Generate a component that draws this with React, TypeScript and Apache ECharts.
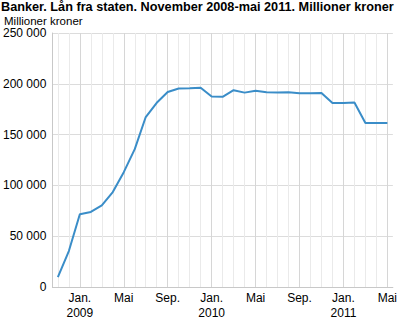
import React, { useEffect, useRef } from "react";
import * as echarts from "echarts";

const months: string[] = [
  "2008-11", "2008-12",
  "2009-01", "2009-02", "2009-03", "2009-04", "2009-05", "2009-06",
  "2009-07", "2009-08", "2009-09", "2009-10", "2009-11", "2009-12",
  "2010-01", "2010-02", "2010-03", "2010-04", "2010-05", "2010-06",
  "2010-07", "2010-08", "2010-09", "2010-10", "2010-11", "2010-12",
  "2011-01", "2011-02", "2011-03", "2011-04", "2011-05",
];

const tickLabels: string[] = [
  "", "",
  "Jan.\n2009", "", "", "", "Mai", "", "", "", "Sep.", "", "", "",
  "Jan.\n2010", "", "", "", "Mai", "", "", "", "Sep.", "", "", "",
  "Jan.\n2011", "", "", "", "Mai",
];

const loans: number[] = [
  9800, 35400,
  71600, 73900, 80400, 93400, 113000, 135700, 167300, 181300, 191900, 195400, 195700, 196200,
  187500, 187200, 193700, 191300, 193200, 191700, 191500, 191700, 190800, 190800, 191000, 181000,
  181000, 181600, 161500, 161500, 161500,
];

const yTicks: number[] = [0, 50000, 100000, 150000, 200000, 250000];

const FONT = "Liberation Sans";

export default function App() {
  const ref = useRef<HTMLDivElement>(null);
  useEffect(() => {
    if (!ref.current) return;
    const chart = echarts.init(ref.current, null, { renderer: "svg" });
    const vLines = months.map((_, i) => ({
      xAxis: i,
      lineStyle: {
        color: tickLabels[i] !== "" ? "#d6d6d6" : "#eaeaea",
        width: 1,
        type: "solid" as const,
      },
    }));
    chart.setOption({
      animation: false,
      textStyle: { fontFamily: FONT },
      title: [
        {
          text: "Banker. Lån fra staten. November 2008-mai 2011. Millioner kroner",
          left: 1,
          top: 0,
          padding: 0,
          textStyle: { fontSize: 12.7, fontWeight: "bold", color: "#000", fontFamily: FONT },
        },
        {
          text: "Millioner kroner",
          left: 4,
          top: 15,
          padding: 0,
          textStyle: { fontSize: 11.5, fontWeight: "normal", color: "#000", fontFamily: FONT },
        },
      ],
      grid: { left: 50, right: 7, top: 33, bottom: 31, containLabel: false },
      xAxis: {
        type: "category",
        data: months,
        boundaryGap: true,
        axisLine: { show: true, lineStyle: { color: "#c8c8c8", width: 1 } },
        axisTick: { show: false },
        splitLine: { show: false },
        axisLabel: {
          interval: 0,
          margin: 3,
          fontSize: 12,
          lineHeight: 15,
          color: "#000",
          fontFamily: FONT,
          formatter: (_v: string, idx: number) => tickLabels[idx],
        },
      },
      yAxis: {
        type: "value",
        min: yTicks[0],
        max: yTicks[yTicks.length - 1],
        interval: yTicks[1] - yTicks[0],
        axisLine: { show: true, lineStyle: { color: "#c8c8c8", width: 1 } },
        axisTick: { show: false },
        splitLine: { show: true, lineStyle: { color: "#dcdcdc", width: 1 } },
        axisLabel: {
          margin: 6,
          fontSize: 12,
          color: "#000",
          fontFamily: FONT,
          formatter: (v: number) =>
            v === 0 ? "0" : `${Math.floor(v / 1000)} ${String(v % 1000).padStart(3, "0")}`,
        },
      },
      series: [
        {
          type: "line",
          data: loans,
          symbol: "none",
          lineStyle: { color: "#3a8dc8", width: 2 },
          z: 5,
          markLine: {
            silent: true,
            symbol: ["none", "none"],
            label: { show: false },
            animation: false,
            z: 1,
            data: vLines,
          },
        },
      ],
    });
    return () => chart.dispose();
  }, []);
  return (
    <div
      ref={ref}
      style={{ position: "fixed", left: 0, top: 0, width: 400, height: 320, background: "#fff" }}
    />
  );
}
